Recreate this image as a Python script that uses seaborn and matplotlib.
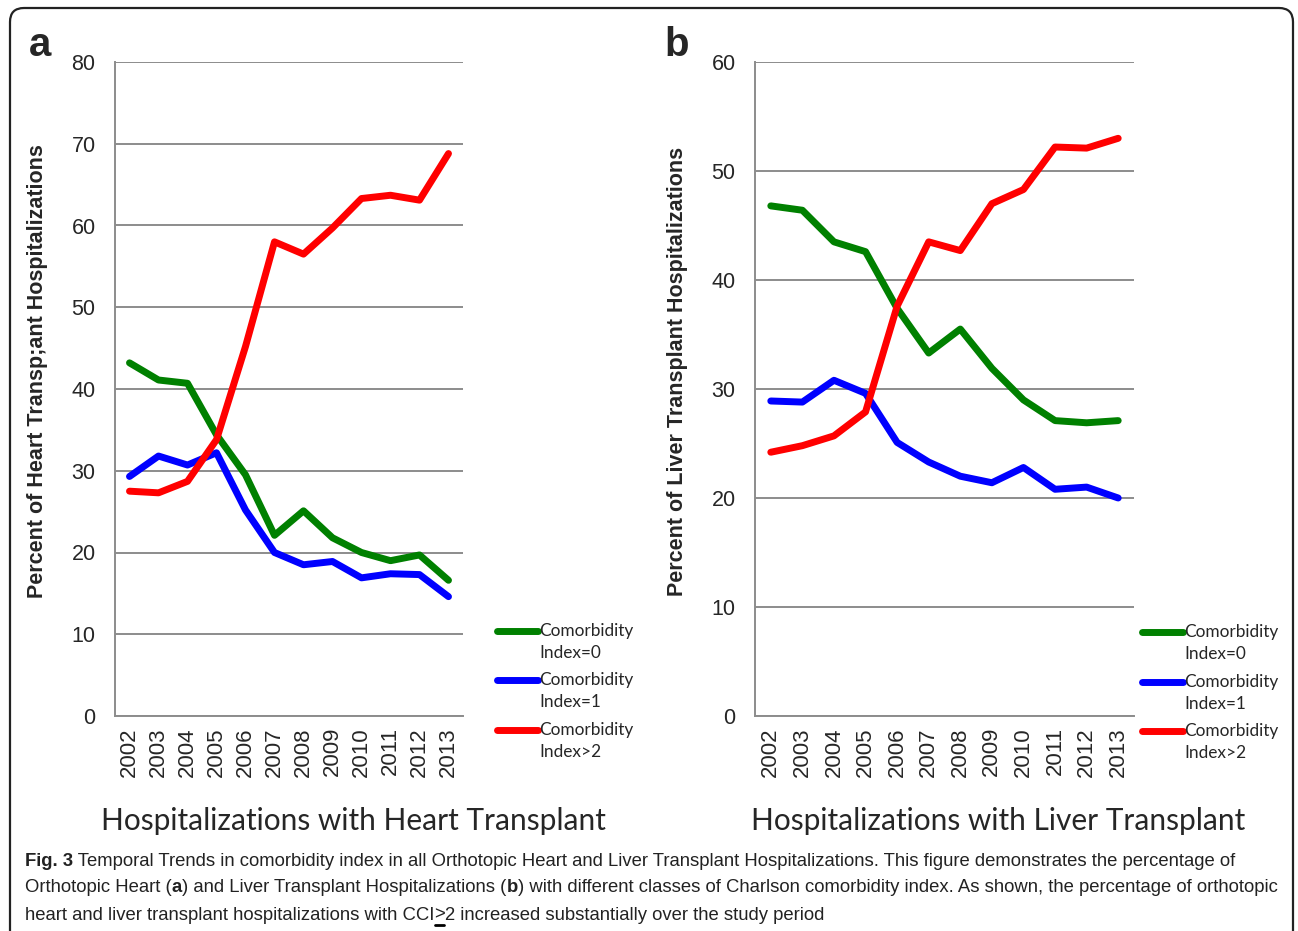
import numpy as np
import pandas as pd
import seaborn as sns
import matplotlib.pyplot as plt
from matplotlib.lines import Line2D
from matplotlib.patches import FancyBboxPatch
from matplotlib.transforms import IdentityTransform

# data
years = list(range(2002, 2014))
series_names = ["Comorbidity Index=0", "Comorbidity Index=1", "Comorbidity Index>2"]
legend_lines = [("Comorbidity", "Index=0"), ("Comorbidity", "Index=1"), ("Comorbidity", "Index>2")]
colors = ["#008000", "#0000ff", "#ff0000"]

heart_cci0 = [43.2, 41.1, 40.7, 34.4, 29.5, 22.1, 25.1, 21.8, 20.0, 19.0, 19.7, 16.6]
heart_cci1 = [29.3, 31.8, 30.7, 32.2, 25.2, 20.0, 18.5, 18.9, 16.9, 17.4, 17.3, 14.6]
heart_cci2 = [27.5, 27.3, 28.7, 33.8, 45.2, 58.0, 56.5, 59.7, 63.3, 63.7, 63.1, 68.8]

liver_cci0 = [46.8, 46.4, 43.5, 42.6, 37.4, 33.3, 35.5, 31.9, 29.0, 27.1, 26.9, 27.1]
liver_cci1 = [28.9, 28.8, 30.8, 29.6, 25.1, 23.3, 22.0, 21.4, 22.8, 20.8, 21.0, 20.0]
liver_cci2 = [24.2, 24.8, 25.7, 27.9, 37.6, 43.5, 42.7, 47.0, 48.3, 52.2, 52.1, 53.0]

W, H = 1298, 931
GRAY = "#8c8c8c"

sns.set_style("white")
plt.rcParams["font.family"] = ["Liberation Sans", "DejaVu Sans"]


def make_frame(cci0, cci1, cci2):
    return pd.DataFrame({
        "Year": years * 3,
        "Percent": cci0 + cci1 + cci2,
        "Series": [n for n in series_names for _ in years],
    })


def fx(px):
    return px / W


def fy(py):
    return 1 - py / H


fig = plt.figure(figsize=(W / 100, H / 100), dpi=100)
fig.patch.set_facecolor("white")

panels = [
    dict(df=make_frame(heart_cci0, heart_cci1, heart_cci2), left=115, right=463, ymax=80,
         ylabel="Percent of Heart Transp;ant Hospitalizations", letter="a", letter_x=40,
         ylab_x=38, title="Hospitalizations with Heart Transplant", title_x=353,
         leg_x=497, leg_y=[631, 680, 730]),
    dict(df=make_frame(liver_cci0, liver_cci1, liver_cci2), left=755, right=1134, ymax=60,
         ylabel="Percent of Liver Transplant Hospitalizations", letter="b", letter_x=677,
         ylab_x=677, title="Hospitalizations with Liver Transplant", title_x=998,
         leg_x=1142, leg_y=[632, 682, 731]),
]

top, bottom = 62, 716
for p in panels:
    ax = fig.add_axes([fx(p["left"]), fy(bottom), fx(p["right"] - p["left"]), (bottom - top) / H])
    sns.lineplot(data=p["df"], x="Year", y="Percent", hue="Series",
                 palette=dict(zip(series_names, colors)), linewidth=5,
                 legend=False, ax=ax, solid_joinstyle="round", solid_capstyle="round")
    ax.set_ylim(0, p["ymax"])
    ax.set_yticks(range(0, p["ymax"] + 1, 10))
    ax.set_xlim(2001.5, 2013.5)
    ax.set_xticks(years)
    ax.set_xticklabels([str(y) for y in years], rotation=90)
    ax.set_xticks(np.arange(2001.5, 2014, 1), minor=True)
    ax.grid(axis="y", color=GRAY, lw=1.4)
    ax.set_axisbelow(True)
    for s in ["top", "right"]:
        ax.spines[s].set_visible(False)
    for s in ["left", "bottom"]:
        ax.spines[s].set_color(GRAY)
        ax.spines[s].set_linewidth(1.4)
    ax.tick_params(axis="x", which="major", length=0, pad=8, labelsize=16)
    ax.tick_params(axis="x", which="minor", length=6, width=1.4, color=GRAY, direction="out")
    ax.tick_params(axis="y", length=6, width=1.4, color=GRAY, direction="out", labelsize=15.5, pad=8)
    ax.set_xlabel("")
    ax.set_ylabel(p["ylabel"], fontsize=15.5, fontweight="bold")
    ax.yaxis.label.set_va("center")
    ax.yaxis.set_label_coords((p["ylab_x"] - p["left"]) / (p["right"] - p["left"]),
                              (bottom - 371) / (bottom - top))

    fig.text(fx(p["letter_x"]), fy(45), p["letter"], fontsize=29, fontweight="bold",
             ha="center", va="center")
    fig.text(fx(p["title_x"]), fy(821), p["title"], fontsize=21.5, family=["Lato", "DejaVu Sans"],
             ha="center", va="center")

    # legend, drawn Excel-style with the sample next to the first text line
    for (l1, l2), c, ly in zip(legend_lines, colors, p["leg_y"]):
        fig.add_artist(Line2D([fx(p["leg_x"]), fx(p["leg_x"] + 41)], [fy(ly), fy(ly)],
                              color=c, lw=5, solid_capstyle="round", transform=fig.transFigure))
        fig.text(fx(p["leg_x"] + 42), fy(ly), l1, fontsize=12.4, family=["Lato", "DejaVu Sans"],
                 va="center", ha="left")
        fig.text(fx(p["leg_x"] + 42), fy(ly + 22), l2, fontsize=12.4, family=["Lato", "DejaVu Sans"],
                 va="center", ha="left")

# caption with mixed bold pieces
cap_font = dict(fontsize=13.3, family=["Liberation Sans", "DejaVu Sans"], va="center",
                ha="left", color="#222222")
caption = [
    [("Fig. 3", "bold"), (" Temporal Trends in comorbidity index in all Orthotopic Heart and Liver "
                           "Transplant Hospitalizations. This figure demonstrates the percentage of", "normal")],
    [("Orthotopic Heart (", "normal"), ("a", "bold"), (") and Liver Transplant Hospitalizations (", "normal"),
     ("b", "bold"), (") with different classes of Charlson comorbidity index. As shown, the percentage of "
                     "orthotopic", "normal")],
    [("heart and liver transplant hospitalizations with CCI", "normal"), (">", "under"),
     ("2 increased substantially over the study period", "normal")],
]
renderer = fig.canvas.get_renderer()
for line, cy in zip(caption, [861, 888, 915]):
    x = fx(25)
    for txt, style in line:
        weight = "bold" if style == "bold" else "normal"
        t = fig.text(x, fy(cy), txt, fontweight=weight, **cap_font)
        bb = t.get_window_extent(renderer=renderer)
        if style == "under":
            fig.add_artist(Line2D([bb.x0 + 1, bb.x1 - 1], [bb.y0 - 1, bb.y0 - 1], color="black", lw=2,
                                  transform=IdentityTransform()))
        x += bb.width / fig.bbox.width

# rounded frame around the figure
frame = FancyBboxPatch((10, -30), 1283, H - 8 + 30, boxstyle="round,pad=0,rounding_size=14",
                       transform=IdentityTransform(), fill=False, ec="#222222", lw=1.6)
fig.add_artist(frame)

fig.savefig("out.png", dpi=100)
